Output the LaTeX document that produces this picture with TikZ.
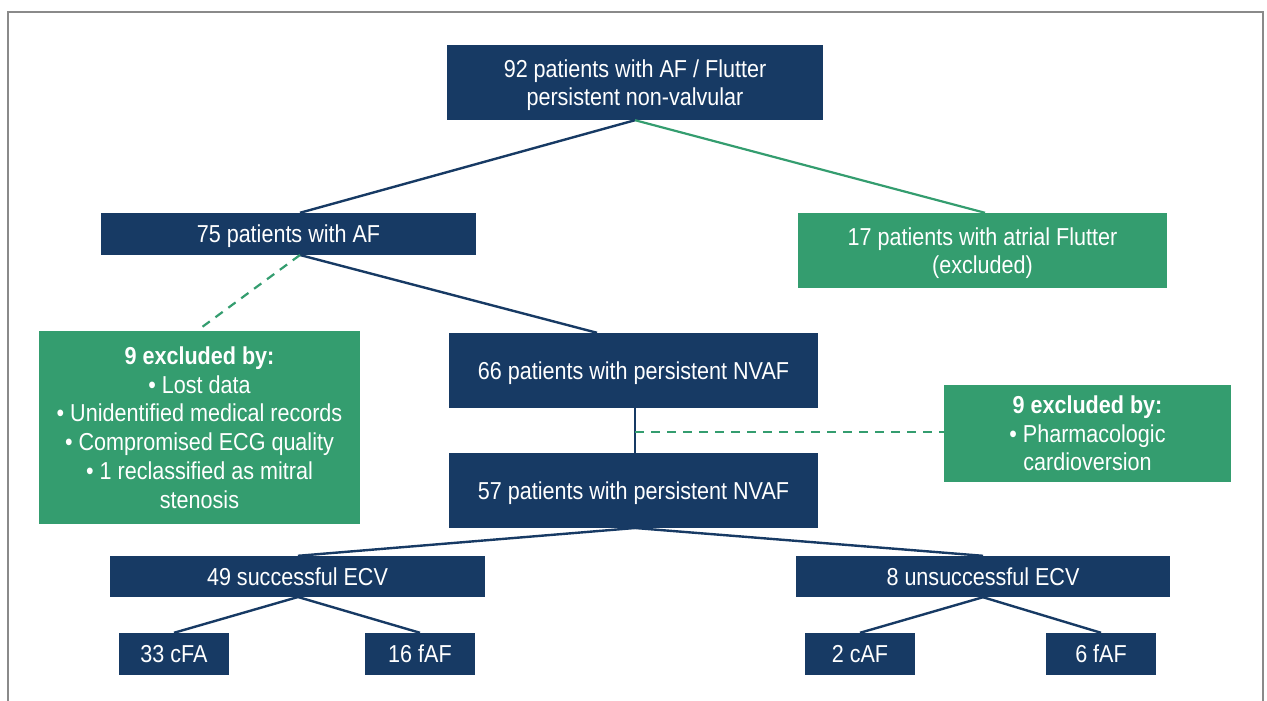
\documentclass[tikz,border=0pt]{standalone}
\usepackage{fontspec}
\setmainfont{Liberation Sans}[FakeStretch=0.88]
\definecolor{navy}{HTML}{173A64}
\definecolor{grn}{HTML}{349D6F}
\definecolor{frame}{HTML}{8A8A8A}
\begin{document}
\begin{tikzpicture}[x=1pt,y=-1pt,
  box/.style={rectangle, inner sep=0pt, text=white, align=center,
    font=\fontsize{24.5}{28.7}\selectfont},
  nbox/.style={box, fill=navy, text depth=0pt},
  gbox/.style={box, fill=grn},
  nline/.style={draw=navy, line width=2.4pt},
  gline/.style={draw=grn, line width=2.2pt},
  gdash/.style={draw=grn, line width=2.2pt, dash pattern=on 9pt off 7pt}]
\useasboundingbox (0,0) rectangle (1267,701);
\draw[frame, line width=2pt] (8,701) -- (8,12) -- (1263,12) -- (1263,701);

\node[nbox, minimum width=376pt, minimum height=75pt] (top) at (635,82.5) {92 patients with AF / Flutter\\persistent non-valvular};
\node[nbox, minimum width=375pt, minimum height=42pt] (af) at (288.5,234) {75 patients with AF};
\node[gbox, text depth=0pt, minimum width=369pt, minimum height=75pt] (fl) at (982.5,250.5) {17 patients with atrial Flutter\\(excluded)};
\node[gbox, minimum width=321pt, minimum height=193pt] (exl) at (199.5,427.5) {\textbf{9 excluded by:}\\• Lost data\\• Unidentified medical records\\• Compromised ECG quality\\• 1 reclassified as mitral\\stenosis};
\node[nbox, minimum width=369pt, minimum height=75pt] (n66) at (633.5,370.5) {66 patients with persistent NVAF};
\node[gbox, minimum width=287pt, minimum height=97pt] (exr) at (1087.5,433.5) {\textbf{9 excluded by:}\\• Pharmacologic\\cardioversion};
\node[nbox, minimum width=369pt, minimum height=75pt] (n57) at (633.5,490.5) {57 patients with persistent NVAF};
\node[nbox, minimum width=375pt, minimum height=41pt] (ok) at (297.5,576.5) {49 successful ECV};
\node[nbox, minimum width=374pt, minimum height=41pt] (ko) at (983,576.5) {8 unsuccessful ECV};
\node[nbox, minimum width=110pt, minimum height=42pt] (c33) at (174,654) {33 cFA};
\node[nbox, minimum width=110pt, minimum height=42pt] (f16) at (420,654) {16 fAF};
\node[nbox, minimum width=110pt, minimum height=42pt] (c2) at (860,654) {2 cAF};
\node[nbox, minimum width=110pt, minimum height=42pt] (f6) at (1101,654) {6 fAF};

\coordinate (tb) at (top.south);
\draw[nline] (tb) -- (af.north -| 300,0);
\draw[gline] (tb) -- (fl.north -| 985,0);
\coordinate (afb) at (300,255);
\draw[nline] (afb) -- (n66.north -| 597,0);
\draw[gdash] (afb) -- (exl.north -| 197,0);
\draw[nline] (n66.south -| 635,0) -- (n57.north -| 635,0);
\coordinate (mid) at (635,432);
\draw[gdash] (mid) -- (exr.west |- mid);
\coordinate (b57) at (635,528);
\draw[nline] (b57) -- (ok.north -| 298,0);
\draw[nline] (b57) -- (ko.north);
\coordinate (okb) at (298,597);
\draw[nline] (okb) -- (c33.north);
\draw[nline] (okb) -- (f16.north);
\draw[nline] (ko.south) -- (c2.north);
\draw[nline] (ko.south) -- (f6.north);
\end{tikzpicture}
\end{document}
